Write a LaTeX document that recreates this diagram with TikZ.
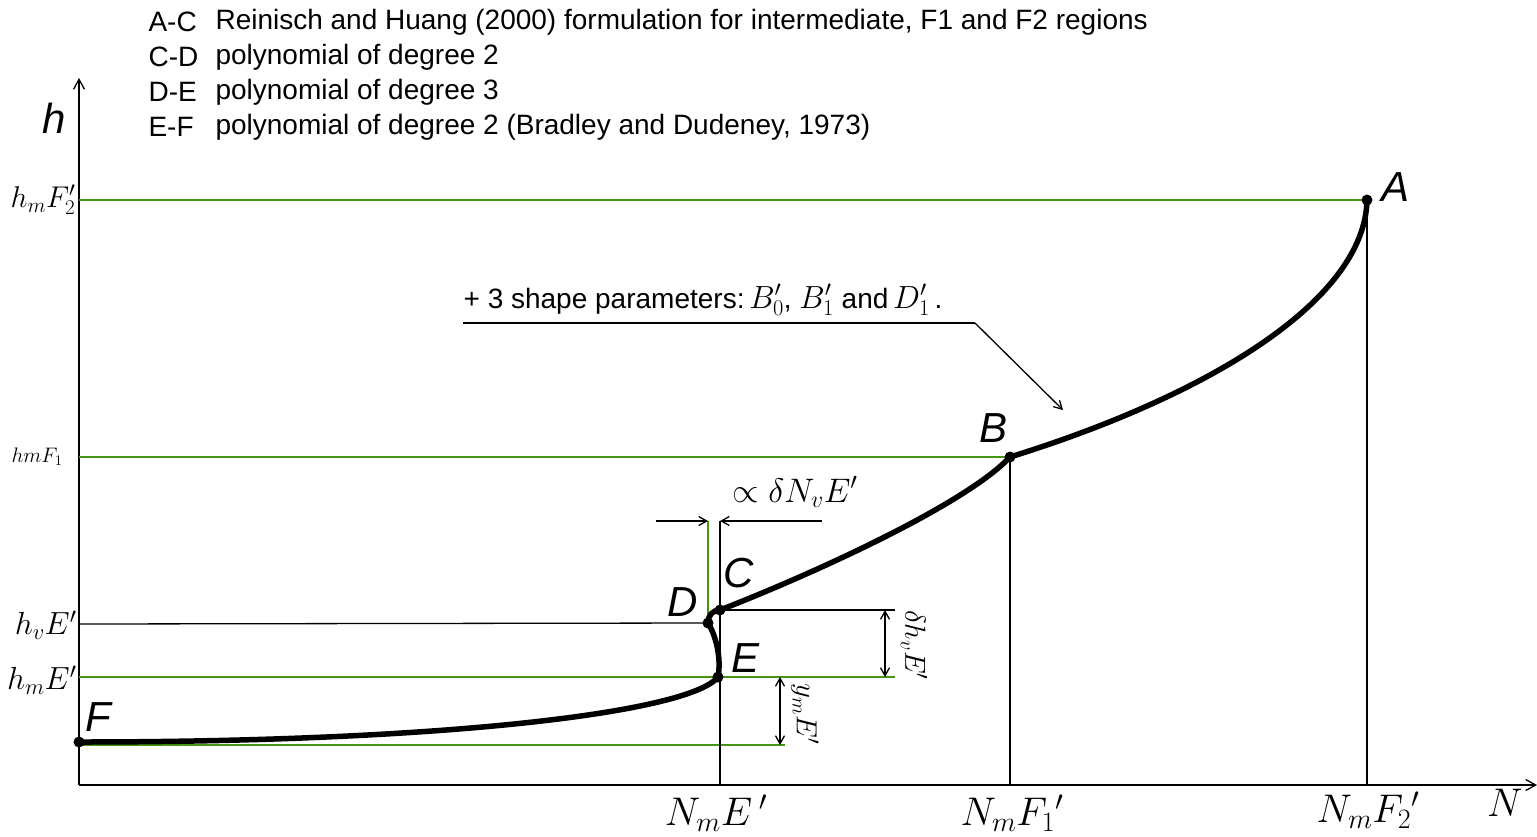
\RequirePackage{fix-cm}
\documentclass[tikz,border=0pt]{standalone}
\usepackage{fontspec}
\setmainfont{Liberation Sans}
\usetikzlibrary{arrows.meta}
\definecolor{guidegreen}{RGB}{70,150,20}

\begin{document}
\begin{tikzpicture}[x=1pt,y=-1pt,
    guide/.style={line width=1.3pt,draw=guidegreen},
    thin/.style={line width=1.3pt},
    curve/.style={line width=5.5pt,line cap=round,line join=round},
    dimtip/.style={line width=1.3pt,-{Straight Barb[length=8pt,width=9pt]}},
    dimboth/.style={line width=1.3pt,{Straight Barb[length=8pt,width=9pt]}-{Straight Barb[length=8pt,width=9pt]}},
    ptlbl/.style={font=\fontsize{42}{46}\selectfont\itshape},
    mlbl/.style={font=\fontsize{32}{36}\selectfont},
    axlbl/.style={font=\fontsize{40}{44}\selectfont},
    legend/.style={font=\fontsize{28}{32}\selectfont,anchor=west}]
    \useasboundingbox (0,0) rectangle (1537,836);

    % Define the axes
    \coordinate (O) at (79,785);
    \coordinate (Ytop) at (79,78);
    \coordinate (Xend) at (1537,785);

    % Define the points of the profile
    \coordinate (A) at (1367,200);
    \coordinate (B) at (1010,457);
    \coordinate (C) at (720,610);
    \coordinate (D) at (708,623);
    \coordinate (E) at (718,677);
    \coordinate (F) at (79,742);

    % Define the feet and the guide ends
    \coordinate (NE) at (720,785);
    \coordinate (NF1) at (1010,785);
    \coordinate (NF2) at (1367,785);
    \coordinate (HF2) at (79,200);
    \coordinate (HF1) at (79,457);
    \coordinate (HvE) at (79,624);
    \coordinate (HmE) at (79,677);
    \coordinate (Cr) at (895,610);
    \coordinate (Er) at (895,677);
    \coordinate (Fr) at (785,745);
    \coordinate (Fl) at (79,745);

    % Define the dimension marks
    \coordinate (Tl) at (656,521);
    \coordinate (Tr) at (822,521);
    \coordinate (Dt) at (708,521);
    \coordinate (Ct) at (720,521);
    \coordinate (Vt) at (885,610);
    \coordinate (Vb) at (885,677);
    \coordinate (Wt) at (780,677);
    \coordinate (Wb) at (780,745);

    % Define the callout
    \coordinate (Ul) at (463,323);
    \coordinate (Ur) at (975,323);
    \coordinate (Utip) at (1063,410);

    % Draw the axes
    \draw[thin,-{Straight Barb[length=10pt,width=11pt]}] (O) -- (Ytop);
    \draw[thin,-{Straight Barb[length=10pt,width=11pt]}] (O) -- (Xend);

    % Draw the guide lines
    \draw[guide] (HF2) -- (A);
    \draw[guide] (HF1) -- (B);
    \draw[thin] (HvE) -- (D);
    \draw[guide] (HmE) -- (Er);
    \draw[thin] (C) -- (Cr);
    \draw[guide] (Fl) -- (Fr);
    \draw[thin] (A) -- (NF2);
    \draw[thin] (B) -- (NF1);
    \draw[thin] (Ct) -- (NE);
    \draw[guide] (Dt) -- (D);

    % Draw the dimension marks
    \draw[dimtip] (Tl) -- (Dt);
    \draw[dimtip] (Tr) -- (Ct);
    \draw[dimboth] (Vt) -- (Vb);
    \draw[dimboth] (Wt) -- (Wb);

    % Draw the profile
    \draw[curve] (F) .. controls (450,742) and (690,712) .. (E)
        .. controls (722,655) and (714,632) .. (D)
        .. controls (708,615) and (713,610) .. (C)
        .. controls (810,575) and (965,505) .. (B)
        .. controls (1210,395) and (1365,300) .. (A);
    \foreach \p in {A,B,C,D,E,F}
        \fill (\p) circle (5.5);

    % Draw the callout
    \draw[thin] (Ul) -- (Ur);
    \draw[dimtip] (Ur) -- (Utip);
    \node (shape) at (703,300) [font=\fontsize{28}{30}\selectfont]
        {+ 3 shape parameters:\,{\fontsize{32}{34}\selectfont$B'_0$}, {\fontsize{32}{34}\selectfont$B'_1$} and\,{\fontsize{32}{34}\selectfont$D'_1$}\,.};

    % Place the point labels
    \node (lA) at (1395,187) [ptlbl] {A};
    \node (lB) at (993,428) [ptlbl] {B};
    \node (lC) at (739,573) [ptlbl] {C};
    \node (lD) at (683,602) [ptlbl] {D};
    \node (lE) at (745,658) [ptlbl] {E};
    \node (lF) at (98,717) [ptlbl] {F};

    % Place the axis labels
    \node (lh) at (54,118) [ptlbl] {h};
    \node (lN) at (1505,803) [axlbl] {$N$};
    \node (lNE) at (716,813) [axlbl] {$N_m E\,'$};
    \node (lNF1) at (1012,813) [axlbl] {$N_m F_1{}'$};
    \node (lNF2) at (1368,810) [axlbl] {$N_m F_2{}'$};
    \node (lHF2) at (79,200) [anchor=east,font=\fontsize{30}{34}\selectfont] {$h_m F'_2$};
    \node (lHF1) at (66,457) [anchor=east,font=\fontsize{21}{24}\selectfont] {$hmF_1$};
    \node (lHvE) at (80,625) [mlbl,anchor=east] {$h_v E'$};
    \node (lHmE) at (80,680) [mlbl,anchor=east] {$h_m E'$};

    % Place the dimension labels
    \node (ldN) at (795,492) [font=\fontsize{34}{38}\selectfont] {$\propto \delta N_v E'$};
    \node (ldh) at (914,645) [font=\fontsize{29}{32}\selectfont,rotate=-90] {$\delta h_v E'$};
    \node (lym) at (805,714) [font=\fontsize{29}{32}\selectfont,rotate=-90] {$y_m E'$};

    % Place the legend
    \node (kAC) at (145,22) [legend] {A-C};
    \node (kCD) at (145,57) [legend] {C-D};
    \node (kDE) at (145,92) [legend] {D-E};
    \node (kEF) at (145,127) [legend] {E-F};
    \node (tAC) at (212,22) [legend] {Reinisch and Huang (2000) formulation for intermediate, F1 and F2 regions};
    \node (tCD) at (212,57) [legend] {polynomial of degree 2};
    \node (tDE) at (212,92) [legend] {polynomial of degree 3};
    \node (tEF) at (212,127) [legend] {polynomial of degree 2 (Bradley and Dudeney, 1973)};

\end{tikzpicture}
\end{document}
